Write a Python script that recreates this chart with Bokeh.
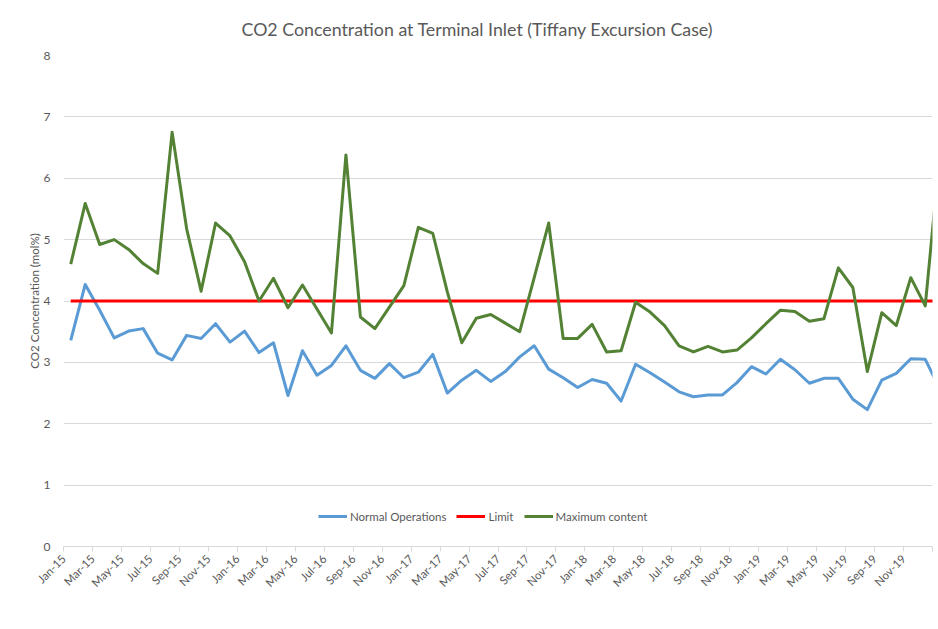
from bokeh.plotting import figure
from bokeh.models import Range1d, FixedTicker, Legend, LegendItem
from bokeh.embed import file_html
from bokeh.resources import INLINE

# Monthly values, Jan-15 ... Jan-20 (last point lies past the axis end and is clipped)
normal_operations = [3.36, 4.27, 3.85, 3.40, 3.51, 3.55, 3.15, 3.04, 3.44, 3.39, 3.63, 3.33,
                     3.51, 3.16, 3.32, 2.46, 3.19, 2.79, 2.95, 3.27, 2.87, 2.74, 2.98, 2.75,
                     2.84, 3.13, 2.50, 2.71, 2.87, 2.69, 2.85, 3.09, 3.27, 2.89, 2.75, 2.59,
                     2.72, 2.66, 2.37, 2.97, 2.83, 2.68, 2.52, 2.44, 2.47, 2.47, 2.67, 2.93,
                     2.81, 3.05, 2.88, 2.66, 2.74, 2.74, 2.40, 2.23, 2.71, 2.82, 3.06, 3.05,
                     2.57]
maximum_content = [4.60, 5.59, 4.92, 5.00, 4.84, 4.61, 4.45, 6.75, 5.18, 4.16, 5.27, 5.06,
                   4.64, 4.00, 4.37, 3.89, 4.26, 3.87, 3.48, 6.38, 3.74, 3.55, 3.90, 4.25,
                   5.20, 5.10, 4.15, 3.32, 3.72, 3.78, 3.64, 3.50, 4.38, 5.27, 3.39, 3.39,
                   3.62, 3.17, 3.19, 3.98, 3.82, 3.60, 3.27, 3.17, 3.26, 3.17, 3.20, 3.40,
                   3.63, 3.85, 3.83, 3.67, 3.71, 4.54, 4.22, 2.85, 3.81, 3.60, 4.38, 3.92,
                   6.40]
limit_value = 4.0
limit = [limit_value] * len(normal_operations)

tick_labels = ["Jan-15", "Mar-15", "May-15", "Jul-15", "Sep-15", "Nov-15",
               "Jan-16", "Mar-16", "May-16", "Jul-16", "Sep-16", "Nov-16",
               "Jan-17", "Mar-17", "May-17", "Jul-17", "Sep-17", "Nov-17",
               "Jan-18", "Mar-18", "May-18", "Jul-18", "Sep-18", "Nov-18",
               "Jan-19", "Mar-19", "May-19", "Jul-19", "Sep-19", "Nov-19"]
y_ticks = [0, 1, 2, 3, 4, 5, 6, 7, 8]

# month index -> centre of its month slot on the date axis
x = [i + 0.5 for i in range(len(normal_operations))]
tick_pos = [2 * k for k in range(len(tick_labels) + 1)]
overrides = {2 * k: lab for k, lab in enumerate(tick_labels)}
overrides[tick_pos[-1]] = ""

FONT = "Lato"
GREY = "#595959"

p = figure(width=938, height=629, output_backend="svg", toolbar_location=None,
           x_range=Range1d(0, tick_pos[-1]), y_range=Range1d(0, 8),
           min_border_left=63, min_border_right=6, min_border_top=55,
           min_border_bottom=83)

p.title.text = "CO2 Concentration at Terminal Inlet (Tiffany Excursion Case)"
p.title.text_font = FONT
p.title.text_font_size = "17.8px"
p.title.text_font_style = "normal"
p.title.text_color = GREY
p.title.align = "left"
p.title.offset = 178
p.title.standoff = 31

p.outline_line_color = None
p.background_fill_color = "white"
p.border_fill_color = "white"

p.xgrid.grid_line_color = None
p.ygrid.grid_line_color = "#d9d9d9"
p.ygrid.grid_line_width = 1

p.yaxis.ticker = FixedTicker(ticks=y_ticks)
p.yaxis.axis_line_color = None
p.yaxis.major_tick_line_color = None
p.yaxis.minor_tick_line_color = None
p.yaxis.major_label_text_font = FONT
p.yaxis.major_label_text_font_size = "12px"
p.yaxis.major_label_text_color = GREY
p.yaxis.major_label_standoff = 7
p.yaxis.axis_label = "CO2 Concentration (mol%)"
p.yaxis.axis_label_text_font = FONT
p.yaxis.axis_label_text_font_size = "11.5px"
p.yaxis.axis_label_text_font_style = "normal"
p.yaxis.axis_label_text_color = GREY
p.yaxis.axis_label_standoff = 0

p.xaxis.ticker = FixedTicker(ticks=tick_pos)
p.xaxis.major_label_overrides = overrides
p.xaxis.major_label_orientation = 0.7854
p.xaxis.axis_line_color = "#d9d9d9"
p.xaxis.major_tick_line_color = "#d9d9d9"
p.xaxis.major_tick_in = 0
p.xaxis.major_tick_out = 5
p.xaxis.minor_tick_line_color = None
p.xaxis.major_label_text_font = FONT
p.xaxis.major_label_text_font_size = "11.5px"
p.xaxis.major_label_text_color = GREY
p.xaxis.major_label_standoff = 5

r_norm = p.line(x, normal_operations, line_color="#5b9bd5", line_width=3, line_join="round")
r_lim = p.line(x, limit, line_color="#ff0000", line_width=3, line_join="round")
r_max = p.line(x, maximum_content, line_color="#548235", line_width=3, line_join="round")

legend = Legend(items=[LegendItem(label="Normal Operations", renderers=[r_norm]),
                       LegendItem(label="Limit", renderers=[r_lim]),
                       LegendItem(label="Maximum content", renderers=[r_max])],
                orientation="horizontal", location=(255, 20))
legend.background_fill_alpha = 0
legend.border_line_color = None
legend.glyph_width = 29
legend.glyph_height = 20
legend.label_standoff = 3
legend.spacing = 10
legend.padding = 0
legend.margin = 0
legend.label_text_font = FONT
legend.label_text_font_size = "11.5px"
legend.label_text_color = GREY
p.add_layout(legend, "center")

open("out.html", "w").write(file_html(p, INLINE))
